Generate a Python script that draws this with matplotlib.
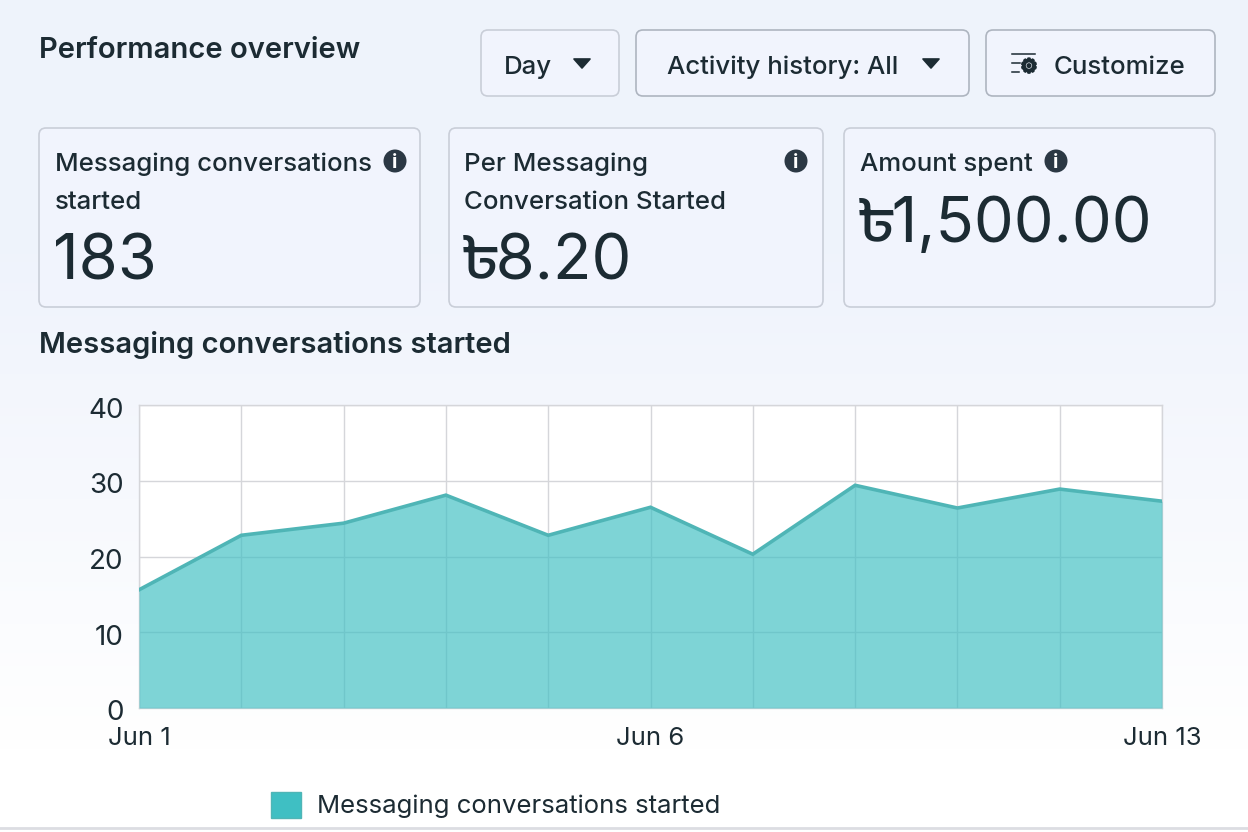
import numpy as np
import matplotlib
matplotlib.use('Agg')
import matplotlib.pyplot as plt
import matplotlib.patheffects as pe
from matplotlib.patches import FancyBboxPatch, Polygon, Circle, Patch
from matplotlib.transforms import ScaledTranslation

plt.rcParams['font.family'] = ['Inter', 'Anek Bangla', 'DejaVu Sans']

shown_days = ['Jun 1', 'Jun 2', 'Jun 3', 'Jun 4', 'Jun 5', 'Jun 6', 'Jun 7',
              'Jun 8', 'Jun 9', 'Jun 10', 'Jun 13']
conversations = [15.6, 22.8, 24.4, 28.1, 22.8, 26.5, 20.3, 29.4, 26.4, 28.9, 27.3]
y_ticks = [0, 10, 20, 30, 40]
x_labels = {'Jun 1': 'Jun 1', 'Jun 6': 'Jun 6', 'Jun 13': 'Jun 13'}

W, H = 1248, 832
INK = '#1c2b33'
BORDER = '#c9ced8'
BUTTON_BORDER = '#aeb5c0'
TEAL = '#3fbfc3'

fig = plt.figure(figsize=(W / 100, H / 100), dpi=100)

# page layer in pixel coordinates
page = fig.add_axes([0, 0, 1, 1])
page.axis('off')

# pale blue fading to white towards the bottom
top = np.array([0.937, 0.953, 0.988])
bottom = np.array([1.0, 1.0, 1.0])
t = np.clip((np.linspace(0, 1, 200) - 0.3) / 0.6, 0, 1)[:, None, None]
grad = top * (1 - t) + bottom * t
page.imshow(grad, extent=[0, W, H, 0], aspect='auto', zorder=0)
page.set_xlim(0, W)
page.set_ylim(H, 0)
page.plot([0, W], [827.5, 827.5], color='#dcdde2', lw=2, zorder=1)


def box(x0, y0, x1, y1, edge=BORDER):
    page.add_patch(FancyBboxPatch((x0, y0), x1 - x0, y1 - y0,
                                  boxstyle='round,pad=0,rounding_size=7',
                                  fc='#f1f4fd', ec=edge, lw=1.2, zorder=2))


def label(x, y, s, size=18.6, weight='medium', **kw):
    page.text(x, y, s, fontsize=size, fontweight=weight, color=INK,
              va='center_baseline', ha='left', zorder=4, **kw)


def caret(cx, cy):
    page.add_patch(Polygon([(cx - 8, cy - 4), (cx + 8, cy - 4), (cx, cy + 5)],
                           closed=True, fc=INK, ec=INK, lw=1.2, joinstyle='round', zorder=4))


def info(cx, cy):
    page.add_patch(Circle((cx, cy), 11.5, fc='#2b3844', ec='none', zorder=4))
    page.text(cx, cy, 'i', color='white', fontsize=14, fontweight='bold',
              ha='center', va='center_baseline', zorder=5)


label(39, 48, 'Performance overview', size=21, weight='semibold')

# buttons
box(481, 30, 619, 96)
label(504, 65, 'Day')
caret(582, 63)
box(636, 30, 969, 96, BUTTON_BORDER)
label(667, 65, 'Activity history: All')
caret(931, 63)
box(986, 30, 1215, 96, BUTTON_BORDER)
label(1054, 65, 'Customize')
page.plot([1012, 1035], [53.5, 53.5], color=INK, lw=1.1, zorder=4)
page.plot([1012, 1020], [63, 63], color=INK, lw=1.1, zorder=4)
page.plot([1012, 1019], [72, 72], color=INK, lw=1.1, zorder=4)
page.text(1029, 67, '\u2699', fontsize=14, color=INK, ha='center', va='center',
          family='DejaVu Sans', zorder=4,
          path_effects=[pe.withStroke(linewidth=1.5, foreground=INK)])

# metric cards
box(39, 128, 420, 307)
label(55, 162, 'Messaging conversations')
label(55, 200, 'started')
info(395, 161)
label(53, 257, '183', size=45.5, weight='normal')

box(449, 128, 823, 307)
label(464, 162, 'Per Messaging')
label(464, 200, 'Conversation Started')
info(796, 161)
label(464, 257, '\u09f38.20', size=45.5, weight='normal')

box(844, 128, 1215, 307)
label(860, 162, 'Amount spent')
info(1056, 161)
label(860, 219, '\u09f31,500.00', size=45.5, weight='normal')

label(39, 342, 'Messaging conversations started', size=21, weight='semibold')

# area chart
x = np.arange(len(conversations))
ax = fig.add_axes([139 / W, 1 - 708 / H, (1162 - 139) / W, (708 - 405) / H])
ax.set_facecolor('white')
ax.fill_between(x, conversations, 0, color=TEAL, alpha=0.67, lw=0, zorder=3)
ax.plot(x, conversations, color='#4fb5b6', lw=2.6, zorder=4, solid_joinstyle='miter')
ax.set_xlim(0, len(conversations) - 1)
ax.set_ylim(0, 40)
ax.set_yticks(y_ticks)
ax.set_xticks(x)
ax.set_xticklabels([x_labels.get(d, '') for d in shown_days])
ax.grid(True, color='#d5d6da', lw=1.0, zorder=1)
ax.set_axisbelow(True)
ax.tick_params(length=0, colors=INK)
ax.tick_params(axis='y', labelsize=20, pad=11)
ax.tick_params(axis='x', labelsize=18.5, pad=14)
# y labels sit a touch below their gridlines
nudge = ScaledTranslation(0, -2.5 / 100, fig.dpi_scale_trans)
for lab in ax.get_yticklabels():
    lab.set_transform(lab.get_transform() + nudge)
for s in ax.spines.values():
    s.set_color('#d5d6da')
    s.set_linewidth(1.0)

fig.legend(handles=[Patch(fc=TEAL, ec='#4fb5b6', label='Messaging conversations started')],
           loc='center left', bbox_to_anchor=(248 / W, 1 - 805 / H), frameon=False,
           fontsize=18.5, handlelength=1.17, handleheight=1.17, handletextpad=0.62,
           labelcolor=INK)

fig.savefig('out.png', dpi=100)
